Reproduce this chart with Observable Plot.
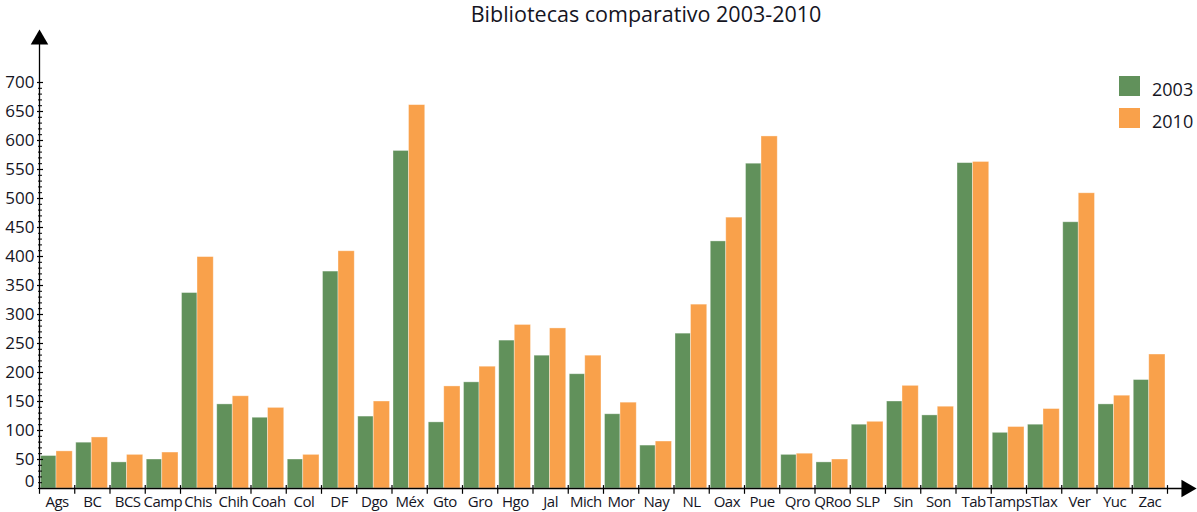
<!DOCTYPE html>
<html>
<head>
<meta charset="utf-8">
<script src="https://cdn.jsdelivr.net/npm/d3@7"></script>
<script src="https://cdn.jsdelivr.net/npm/@observablehq/plot@0.6"></script>
<style>
  html, body { margin: 0; padding: 0; background: #fff; }
  #wrap { position: relative; width: 1197px; height: 512px; overflow: hidden; font-family: "Open Sans", sans-serif; }
  #title { position: absolute; left: 0; top: 0; width: 1292px; height: 28px; line-height: 28px; text-align: center; font-size: 21.5px; color: #15151f; }
  #chart { position: absolute; left: 0; top: 28px; }
  #legend { position: absolute; left: 1119px; top: 76px; font-size: 18px; color: #15151f; }
  .item { display: flex; align-items: center; height: 20px; margin-bottom: 12px; }
  .sw { width: 21px; height: 20px; margin-right: 12px; }
  .item span { position: relative; top: 3px; }
  .xlab text { letter-spacing: -0.5px; }
</style>
</head>
<body>
<div id="wrap">
  <div id="title">Bibliotecas comparativo 2003-2010</div>
  <div id="chart"></div>
  <div id="legend"></div>
</div>
<script>
const states = ["Ags","BC","BCS","Camp","Chis","Chih","Coah","Col","DF","Dgo","Méx","Gto","Gro","Hgo","Jal","Mich","Mor","Nay","NL","Oax","Pue","Qro","QRoo","SLP","Sin","Son","Tab","Tamps","Tlax","Ver","Yuc","Zac"];
const v2003 = [56,79,45,50,337,145,122,50,374,124,582,114,183,255,229,197,128,74,267,426,560,58,45,110,150,126,561,96,110,459,145,187];
const v2010 = [64,88,58,62,399,159,139,58,409,150,661,176,210,282,276,229,148,81,317,467,607,60,50,115,177,141,563,106,137,509,160,231];
const years = ["2003","2010"];
const colors = ["#61915b","#f9a14b"];
const yTicks = [50,100,150,200,250,300,350,400,450,500,550,600,650,700];
const yMinor = d3.range(0, 701, 10);

const data2003 = states.map((s, i) => ({state: s, year: "2003", value: v2003[i]}));
const data2010 = states.map((s, i) => ({state: s, year: "2010", value: v2010[i]}));

const W = 1197, H = 484;
const xRange = [39, 1167];
const bw = (xRange[1] - xRange[0]) / states.length;
const ml = 39, mr = 4;
const frameW = W - ml - mr;
const ink = "#15151f";

const plot = Plot.plot({
  width: W,
  height: H,
  marginLeft: ml,
  marginRight: mr,
  marginTop: 4,
  marginBottom: 24,
  style: {fontFamily: "Open Sans, sans-serif", color: ink, background: "#fff"},
  x: {domain: states, range: xRange, padding: 0, round: false, axis: null, label: null},
  y: {domain: [0, 700], range: [460, 54], axis: null, label: null},
  marks: [
    Plot.barY(data2003, {x: "state", y: "value", fill: colors[0], stroke: "#fff", strokeOpacity: 0.45, strokeWidth: 0.8, insetLeft: 1.5, insetRight: bw - 17}),
    Plot.barY(data2010, {x: "state", y: "value", fill: colors[1], stroke: "#fff", strokeOpacity: 0.45, strokeWidth: 0.8, insetLeft: 17, insetRight: 2}),
    // axes lines
    Plot.ruleY([0], {stroke: "#000", strokeWidth: 1.3}),
    Plot.ruleX([states[0]], {dx: -bw / 2, stroke: "#000", strokeWidth: 1.3}),
    // arrowheads
    Plot.dot([0], {frameAnchor: "top-left", symbol: "triangle", r: 6.5, fill: "#000", stroke: null, dy: 7}),
    Plot.dot([0], {frameAnchor: "bottom-right", symbol: "triangle", r: 6.5, fill: "#000", stroke: null, rotate: 90, dx: -7}),
    // y ticks
    Plot.tickY(yMinor, {y: d => d, stroke: "#000", strokeWidth: 1, insetLeft: -1, insetRight: frameW - 3}),
    Plot.tickY(yTicks, {y: d => d, stroke: "#000", strokeWidth: 1.2, insetLeft: -2, insetRight: frameW - 4}),
    // x ticks at band boundaries
    Plot.ruleX(states, {x: d => d, dx: -bw / 2, y1: 5, y2: -10, stroke: "#000", strokeWidth: 1.2}),
    Plot.ruleX([states[states.length - 1]], {x: d => d, dx: bw / 2, y1: 5, y2: -10, stroke: "#000", strokeWidth: 1.2}),
    // axis labels
    Plot.axisY(yTicks, {tickSize: 0, tickPadding: 5, fontSize: 17, anchor: "left", label: null}),
    Plot.axisY([0], {tickSize: 0, tickPadding: 5, fontSize: 17, anchor: "left", dy: -7, label: null}),
    Plot.axisX(states, {tickSize: 0, tickPadding: 8, fontSize: 15, anchor: "bottom", label: null, className: "xlab"})
  ]
});
document.getElementById("chart").appendChild(plot);

const legend = document.getElementById("legend");
years.forEach((y, i) => {
  const it = document.createElement("div");
  it.className = "item";
  const sw = document.createElement("div");
  sw.className = "sw";
  sw.style.background = colors[i];
  const t = document.createElement("span");
  t.textContent = y;
  it.appendChild(sw);
  it.appendChild(t);
  legend.appendChild(it);
});
</script>
</body>
</html>
